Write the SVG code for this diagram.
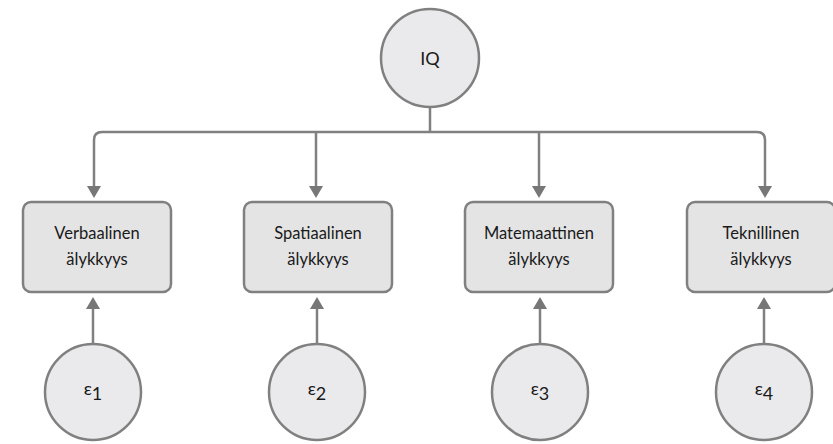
<svg xmlns="http://www.w3.org/2000/svg" width="833" height="444" viewBox="0 0 833 444">
<defs>
<style>
.c{fill:#eaeaed;stroke:#808080;stroke-width:2.5}
.b{fill:#e4e4e5;stroke:#808080;stroke-width:2.5}
.t{font-family:Lato,"Open Sans","Liberation Sans",sans-serif;font-size:16.5px;fill:#1a1a1a;text-anchor:middle}
.e{font-family:Lato,"Open Sans","Liberation Sans",sans-serif;font-size:18px;fill:#1a1a1a;text-anchor:middle}
.l{fill:none;stroke:#808080;stroke-width:2.5}
.h{fill:#777}
</style>
</defs>
<g id="connectors">
<path class="l" d="M430,107 V132"/>
<path class="l" d="M94,186 V140 Q94,132 102,132 H757 Q765,132 765,140 V186"/>
<path class="l" d="M316,132 V186"/>
<path class="l" d="M539,132 V186"/>
<path class="h" d="M87,186 L101,186 L94,198 Z"/>
<path class="h" d="M309,186 L323,186 L316,198 Z"/>
<path class="h" d="M532,186 L546,186 L539,198 Z"/>
<path class="h" d="M758,186 L772,186 L765,198 Z"/>
<path class="l" d="M93,344 V308"/>
<path class="l" d="M317,344 V308"/>
<path class="l" d="M540,344 V308"/>
<path class="l" d="M764,344 V308"/>
<path class="h" d="M86,309 L100,309 L93,297 Z"/>
<path class="h" d="M310,309 L324,309 L317,297 Z"/>
<path class="h" d="M533,309 L547,309 L540,297 Z"/>
<path class="h" d="M757,309 L771,309 L764,297 Z"/>
</g>
<g id="IQ">
<circle class="c" cx="430" cy="58" r="49"/>
<text class="t" x="430" y="65" style="font-size:18px">IQ</text>
</g>
<g id="verbaalinen">
<rect class="b" x="23" y="202" width="148" height="90" rx="8"/>
<text class="t" x="97" y="239">Verbaalinen</text>
<text class="t" x="97" y="265">älykkyys</text>
</g>
<g id="spatiaalinen">
<rect class="b" x="244" y="202" width="148" height="90" rx="8"/>
<text class="t" x="318" y="239">Spatiaalinen</text>
<text class="t" x="318" y="265">älykkyys</text>
</g>
<g id="matemaattinen">
<rect class="b" x="465" y="202" width="148" height="90" rx="8"/>
<text class="t" x="539" y="239">Matemaattinen</text>
<text class="t" x="539" y="265">älykkyys</text>
</g>
<g id="teknillinen">
<rect class="b" x="687" y="202" width="148" height="90" rx="8"/>
<text class="t" x="761" y="239">Teknillinen</text>
<text class="t" x="761" y="265">älykkyys</text>
</g>
<g id="e1">
<circle class="c" cx="93" cy="392" r="48"/>
<text class="e" x="93" y="395">ε<tspan dy="5">1</tspan></text>
</g>
<g id="e2">
<circle class="c" cx="317" cy="392" r="48"/>
<text class="e" x="317" y="395">ε<tspan dy="5">2</tspan></text>
</g>
<g id="e3">
<circle class="c" cx="540" cy="392" r="48"/>
<text class="e" x="540" y="395">ε<tspan dy="5">3</tspan></text>
</g>
<g id="e4">
<circle class="c" cx="764" cy="392" r="48"/>
<text class="e" x="764" y="395">ε<tspan dy="5">4</tspan></text>
</g>
</svg>
